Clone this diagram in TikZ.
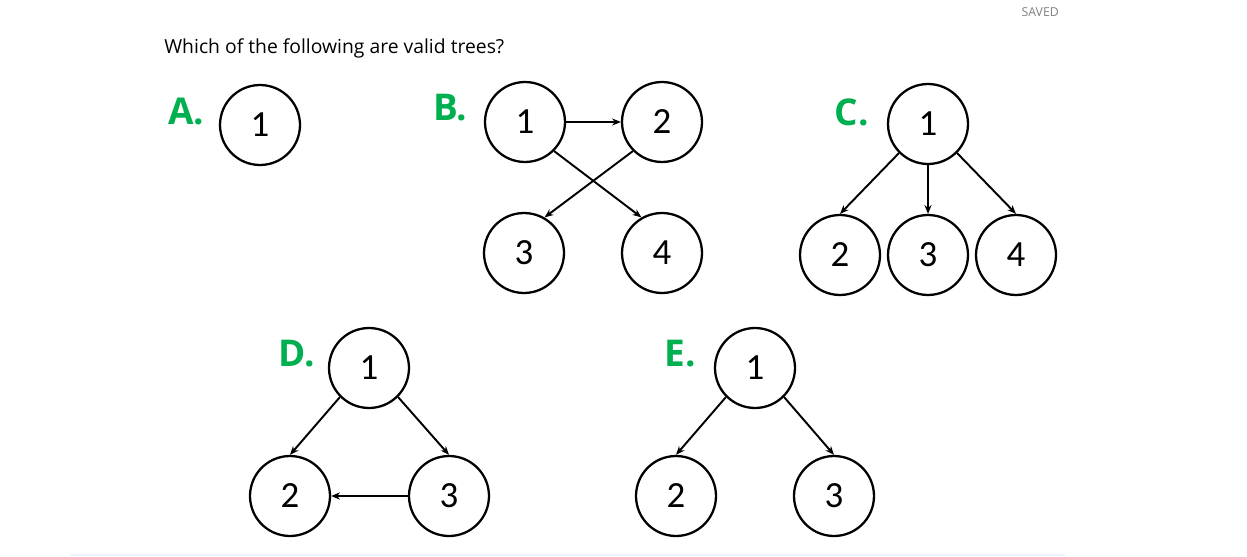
\documentclass[tikz,border=0pt]{standalone}
\usepackage{fontspec}
\setmainfont{Open Sans}
\newfontfamily\digitfont{Carlito}
\usetikzlibrary{arrows.meta}
\definecolor{labelgreen}{RGB}{0,176,80}
\tikzset{
	vert/.style={circle, draw, line width=1.3pt, minimum size=1.6cm, inner sep=0pt, font=\digitfont\fontsize{21}{21}\selectfont},
	edge/.style={line width=1.1pt, -{Stealth[length=5pt,width=4pt]}},
	letter/.style={font=\bfseries\fontsize{21}{21}\selectfont, text=labelgreen}
}
\begin{document}
\begin{tikzpicture}[x=0.02cm, y=-0.02cm]
	\useasboundingbox (0,0) rectangle (1247,557);
	\draw[color=blue!6, line width=1pt] (70,555) -- (1065,555);
	\node[anchor=east, font=\fontsize{7}{7}\selectfont, text=gray] (saved) at (1065,12) {SAVED};
	\node[anchor=west, font=\fontsize{11}{11}\selectfont, inner sep=0pt] (title) at (164,48) {Which of the following are valid trees?};
	% A
	\node[letter] (LA) at (186,112) {A.};
	\node[vert] (a1) at (260,125) {1};
	% B
	\node[letter] (LB) at (450,108) {B.};
	\node[vert] (b1) at (525,122) {1};
	\node[vert] (b2) at (662,122) {2};
	\node[vert] (b3) at (524,253) {3};
	\node[vert] (b4) at (662,253) {4};
	\draw[edge] (b1) -- (b2);
	\draw[edge] (b1.315) -- (b4.120);
	\draw[edge] (b2.225) -- (b3.60);
	% C
	\node[letter] (LC) at (852,112) {C.};
	\node[vert] (c1) at (928,124) {1};
	\node[vert] (c2) at (840,255) {2};
	\node[vert] (c3) at (928,255) {3};
	\node[vert] (c4) at (1016,255) {4};
	\draw[edge] (c1.225) -- (c2.north);
	\draw[edge] (c1) -- (c3);
	\draw[edge] (c1.315) -- (c4.north);
	% D
	\node[letter] (LD) at (297,354) {D.};
	\node[vert] (d1) at (369,368) {1};
	\node[vert] (d2) at (290,496) {2};
	\node[vert] (d3) at (449,496) {3};
	\draw[edge] (d1.225) -- (d2.north);
	\draw[edge] (d1.315) -- (d3.north);
	\draw[edge] (d3) -- (d2);
	% E
	\node[letter] (LE) at (680,354) {E.};
	\node[vert] (e1) at (755,368) {1};
	\node[vert] (e2) at (676,496) {2};
	\node[vert] (e3) at (834,496) {3};
	\draw[edge] (e1.225) -- (e2.north);
	\draw[edge] (e1.315) -- (e3.north);
\end{tikzpicture}
\end{document}
